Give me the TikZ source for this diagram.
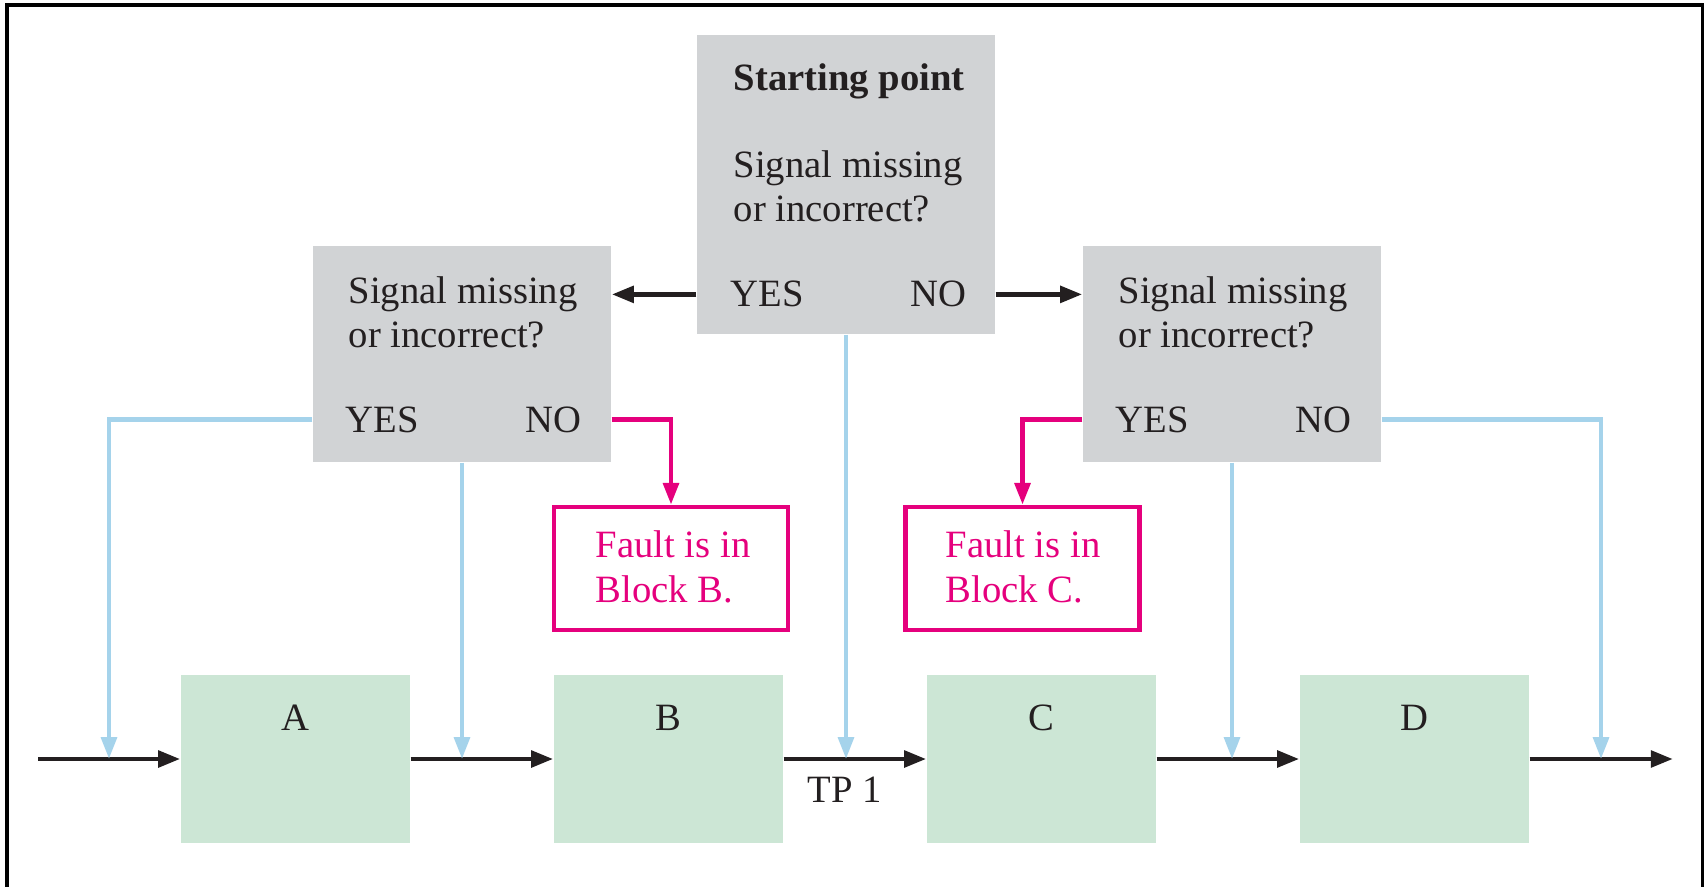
\documentclass[tikz,border=0pt]{standalone}
\usepackage{fontspec}
\setmainfont{Liberation Serif}
\usetikzlibrary{arrows.meta}
\definecolor{ink}{HTML}{231F20}
\definecolor{qgray}{HTML}{D1D3D5}
\definecolor{blkgreen}{HTML}{CCE6D5}
\definecolor{feedblue}{HTML}{A5D3EB}
\definecolor{fltpink}{HTML}{E5007D}
\begin{document}
\begin{tikzpicture}[x=1cm,y=1cm,
  qbox/.style={fill=qgray, inner sep=0pt, minimum width=2.98cm},
  blk/.style={fill=blkgreen, inner sep=0pt, minimum width=2.29cm, minimum height=1.68cm},
  fault/.style={draw=fltpink, line width=1.3pt, inner sep=0pt, minimum width=2.34cm, minimum height=1.23cm},
  txt/.style={inner sep=0pt, text=ink, font=\fontsize{11}{12.8}\selectfont},
  sig/.style={-{Triangle[length=6.3pt,width=4.6pt]}, line width=1.4pt, draw=ink},
  feed/.style={-{Triangle[length=6.2pt,width=4.4pt]}, line width=1.25pt, draw=feedblue},
  hit/.style={-{Triangle[length=6.2pt,width=4.4pt]}, line width=1.3pt, draw=fltpink}]
  \useasboundingbox (0,0) rectangle (17.04,8.86);
  % frame
  \draw[line width=0.9pt] (0.07,-0.5) rectangle (17.03,8.81);
  % starting point
  \node[qbox, minimum height=2.99cm] (start) at (8.46,7.015) {};
  \node[txt, anchor=base west] (title) at (7.33,7.95) {\bfseries Starting point};
  \node[txt, anchor=base west, align=left] (q0) at (7.33,6.64) {Signal missing\\or incorrect?};
  \node[txt, anchor=base west] (yes0) at (7.30,5.79) {YES};
  \node[txt, anchor=base east] (no0) at (9.67,5.79) {NO};
  % left question
  \node[qbox, minimum height=2.16cm] (L) at (4.62,5.32) {};
  \node[txt, anchor=base west, align=left] (qL) at (3.48,5.38) {Signal missing\\or incorrect?};
  \node[txt, anchor=base west] (Lyes) at (3.45,4.54) {YES};
  \node[txt, anchor=base east] (Lno) at (5.82,4.54) {NO};
  % right question
  \node[qbox, minimum height=2.16cm] (R) at (12.32,5.32) {};
  \node[txt, anchor=base west, align=left] (qR) at (11.18,5.38) {Signal missing\\or incorrect?};
  \node[txt, anchor=base west] (Ryes) at (11.15,4.54) {YES};
  \node[txt, anchor=base east] (Rno) at (13.52,4.54) {NO};
  % fault boxes
  \node[fault] (fB) at (6.71,3.175) {};
  \node[txt, text=fltpink, anchor=base west, align=left] (fBt) at (5.95,2.84) {Fault is in\\Block B.};
  \node[fault] (fC) at (10.225,3.175) {};
  \node[txt, text=fltpink, anchor=base west, align=left] (fCt) at (9.45,2.84) {Fault is in\\Block C.};
  % blocks
  \foreach \n/\x in {A/2.955,B/6.685,C/10.415,D/14.145} {
    \node[blk] (\n) at (\x,1.27) {};
    \node[txt, anchor=base] (\n lbl) at (\x,1.56) {\n};
  }
  \node[txt, anchor=base] (tp) at (8.45,0.84) {TP 1};
  % signal path
  \coordinate (in) at (0.38,1.27);
  \coordinate (out) at (16.73,1.27);
  \draw[sig] (in) -- (A);
  \draw[sig] (A) -- (B);
  \draw[sig] (B) -- (C);
  \draw[sig] (C) -- (D);
  \draw[sig] (D) -- (out);
  % decisions
  \draw[sig] (start.west |- yes0) -- (L.east |- yes0);
  \draw[sig] (start.east |- no0) -- (R.west |- no0);
  % test points
  \coordinate (tpA) at (1.09,1.27);
  \coordinate (tpE) at (16.01,1.27);
  \draw[feed] (L.west |- Lyes) -| (tpA);
  \draw[feed] (L.south) -- (L.south |- in);
  \draw[feed] (start.south) -- (start.south |- in);
  \draw[feed] (R.south) -- (R.south |- in);
  \draw[feed] (R.east |- Rno) -| (tpE);
  \draw[hit] (L.east |- Lno) -| (fB.north);
  \draw[hit] (R.west |- Ryes) -| (fC.north);
\end{tikzpicture}
\end{document}
